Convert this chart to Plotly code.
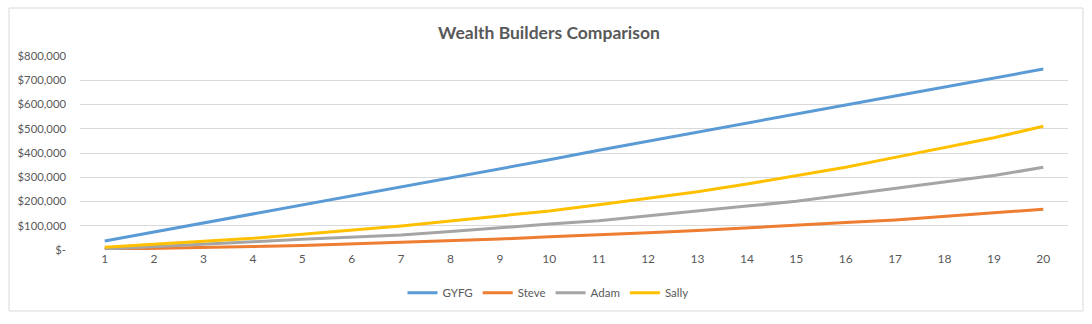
import plotly.graph_objects as go

years = list(range(1, 21))
gyfg = [37000, 74000, 111000, 148000, 186000, 223000, 259000, 297000, 334000, 372000,
        411000, 449000, 487000, 524000, 561000, 598000, 635000, 672000, 709000, 746000]
steve = [3000, 6000, 10000, 14000, 19000, 25000, 30000, 38000, 45000, 55000,
         62000, 71000, 80000, 92000, 103000, 113000, 124000, 140000, 154000, 168000]
adam = [4000, 13000, 23000, 34000, 44000, 53000, 62000, 76000, 93000, 107000,
        121000, 140000, 161000, 181000, 201000, 227000, 252000, 279000, 307000, 341000]
sally = [11000, 23000, 35000, 48000, 65000, 82000, 99000, 120000, 140000, 161000,
         187000, 212000, 240000, 272000, 305000, 341000, 382000, 424000, 463000, 510000]

series_names = ["GYFG", "Steve", "Adam", "Sally"]
series_colors = ["#5B9BD5", "#ED7D31", "#A5A5A5", "#FFC000"]
y_tickvals = [0, 100000, 200000, 300000, 400000, 500000, 600000, 700000, 800000]
y_ticktext = ["$-", "$100,000", "$200,000", "$300,000", "$400,000",
              "$500,000", "$600,000", "$700,000", "$800,000"]

FONT = "Lato"
fig = go.Figure()
for name, vals, col in zip(series_names, [gyfg, steve, adam, sally], series_colors):
    fig.add_trace(go.Scatter(x=years, y=vals, name=name, mode="lines",
                             line=dict(color=col, width=3)))

fig.update_layout(
    width=1092, height=324,
    margin=dict(l=80, r=24, t=56, b=74),
    paper_bgcolor="white", plot_bgcolor="white",
    font=dict(family=FONT, size=12, color="#595959"),
    title=dict(text="<b>Wealth Builders Comparison</b>", x=549 / 1092, xanchor="center",
               xref="container", y=1 - 33 / 324, yanchor="middle",
               font=dict(family=FONT, size=17.5, color="#595959")),
    legend=dict(orientation="h", x=(548 - 80) / 988, xanchor="center", y=-0.22, yanchor="middle",
                font=dict(family=FONT, size=11.5, color="#595959"),
                itemwidth=30, traceorder="normal"),
    showlegend=True,
)
fig.update_xaxes(range=[0.5, 20.5], tickmode="array", tickvals=years,
                 ticktext=[str(y) for y in years], showgrid=False, zeroline=False,
                 showline=False, ticks="", tickfont=dict(size=12, color="#595959"))
fig.update_yaxes(range=[0, 800000], tickmode="array", tickvals=y_tickvals,
                 ticktext=y_ticktext, showgrid=True, gridcolor="#D9D9D9", gridwidth=1,
                 zeroline=False, showline=False, ticks="", ticklabelstandoff=13,
                 tickfont=dict(size=11.3, color="#595959"))

fig.add_shape(type="rect", xref="paper", yref="paper",
              x0=(9 - 80) / 988, x1=(1083 - 80) / 988,
              y0=(250 - 311) / 194, y1=(250 - 8) / 194,
              line=dict(color="#D9D9D9", width=1), fillcolor="rgba(0,0,0,0)", layer="below")

fig.write_html("out.html")
